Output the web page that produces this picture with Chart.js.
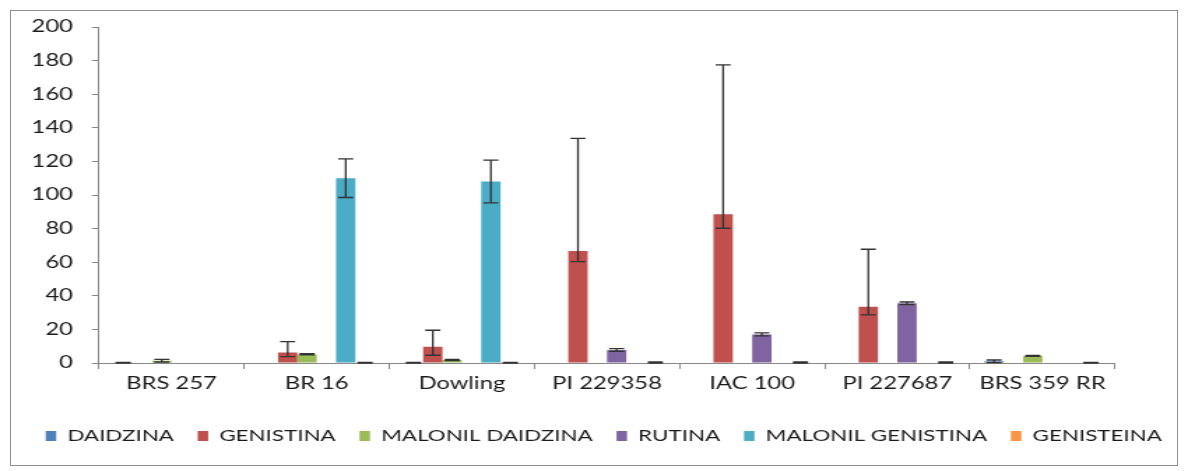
<!DOCTYPE html>
<html>
<head>
<meta charset="utf-8">
<script src="https://cdn.jsdelivr.net/npm/chart.js@4"></script>
<style>
  html, body { margin: 0; padding: 0; background: #fff; }
  body { width: 1188px; height: 471px; position: relative; overflow: hidden; }
  /* the chart is laid out narrow and widened horizontally, giving the broad lettering */
  #wrap { position: absolute; left: 0; top: 0; width: 850px; height: 471px;
          transform: scaleX(1.397647); transform-origin: 0 0; }
  #frame { position: absolute; left: 10px; top: 10px; width: 1168px; height: 456px;
           border: 1px solid #8c8c8c; box-sizing: border-box; pointer-events: none; }
</style>
</head>
<body>
<div id="wrap"><canvas id="c" width="850" height="471"></canvas></div>
<div id="frame"></div>
<script>
// Cultivars
const categories = ['BRS 257', 'BR 16', 'Dowling', 'PI 229358', 'IAC 100', 'PI 227687', 'BRS 359 RR'];
const yTicks = [0, 20, 40, 60, 80, 100, 120, 140, 160, 180, 200];

// Isoflavone contents per cultivar
const daidzina          = [0.2, 0,   0.2, 0,    0,    0,    1.0];
const genistina         = [0,   6.2, 9.7, 66.7, 88.5, 33.5, 0];
const malonilDaidzina   = [1.4, 5.2, 1.8, 0,    0,    0,    4.2];
const rutina            = [0,   0,   0,   7.7,  17.0, 35.5, 0];
const malonilGenistina  = [0,   110, 108, 0,    0,    0,    0];
const genisteina        = [0,   0.2, 0.2, 0.3,  0.3,  0.3,  0.2];

// Error bars (upper / lower extent)
const daidzinaErr         = [0.2, 0,   0.2, 0,   0,   0,   0.8];
const genistinaErrUp      = [0,   6.5, 9.8, 67,  89,  34.2, 0];
const genistinaErrDown    = [0,   2.4, 5.1, 6.4, 8.3, 4.9, 0];
const malonilDaidzinaErr  = [0.8, 0.4, 0.4, 0,   0,   0,   0.3];
const rutinaErr           = [0,   0,   0,   0.8, 0.9, 0.8, 0];
const malonilGenistinaErr = [0,   11.5, 12.7, 0, 0,   0,   0];
const genisteinaErr       = [0,   0.2, 0.2, 0.3, 0.3, 0.3, 0.2];

const FAMILY = 'Lato, "Open Sans", sans-serif';
const FONT = { family: FAMILY, size: 17 };
const LEGEND_FONT = { family: FAMILY, size: 16 };
const TEXT = '#1a1a1a';
const AXIS = '#868686';

function series(label, data, color, up, down) {
  return { label, data, backgroundColor: color, borderWidth: 0,
           categoryPercentage: 0.8, barPercentage: 1.0,
           errUp: up, errDown: down || up };
}

const errorBars = {
  id: 'errorBars',
  afterDatasetsDraw(chart) {
    const ctx = chart.ctx;
    const yS = chart.scales.y;
    ctx.save();
    ctx.strokeStyle = '#333';
    ctx.lineWidth = 1.3;
    chart.data.datasets.forEach((ds, i) => {
      const meta = chart.getDatasetMeta(i);
      meta.data.forEach((bar, j) => {
        const up = ds.errUp[j] || 0, dn = ds.errDown[j] || 0;
        if (!up && !dn) return;
        const v = ds.data[j];
        const yT = yS.getPixelForValue(v + up);
        const yB = yS.getPixelForValue(Math.max(v - dn, 0));
        const x = bar.x, hw = 5.4;
        ctx.beginPath();
        ctx.moveTo(x, yT); ctx.lineTo(x, yB);
        ctx.moveTo(x - hw, yT); ctx.lineTo(x + hw, yT);
        ctx.moveTo(x - hw, yB); ctx.lineTo(x + hw, yB);
        ctx.stroke();
      });
    });
    ctx.restore();
  }
};

new Chart(document.getElementById('c'), {
  type: 'bar',
  data: {
    labels: categories,
    datasets: [
      series('DAIDZINA', daidzina, '#4F81BD', daidzinaErr),
      series('GENISTINA', genistina, '#C0504D', genistinaErrUp, genistinaErrDown),
      series('MALONIL DAIDZINA', malonilDaidzina, '#9BBB59', malonilDaidzinaErr),
      series('RUTINA', rutina, '#8064A2', rutinaErr),
      series('MALONIL GENISTINA', malonilGenistina, '#4BACC6', malonilGenistinaErr),
      series('GENISTEINA', genisteina, '#F79646', genisteinaErr)
    ]
  },
  options: {
    responsive: false,
    animation: false,
    devicePixelRatio: 1,
    layout: { padding: { left: 14, right: 0, top: 27, bottom: 17 } },
    plugins: {
      legend: {
        position: 'bottom',
        labels: { boxWidth: 7.5, boxHeight: 10, padding: 17, color: TEXT, font: LEGEND_FONT }
      },
      tooltip: { enabled: false }
    },
    scales: {
      x: {
        offset: true,
        grid: { offset: true, drawOnChartArea: false, drawTicks: true, tickLength: 6, color: AXIS },
        border: { color: AXIS },
        ticks: { color: TEXT, font: FONT, padding: 4, maxRotation: 0, autoSkip: false },
        afterFit: s => { s.height = 48; }
      },
      y: {
        min: 0, max: 200,
        afterBuildTicks: s => { s.ticks = yTicks.map(v => ({ value: v })); },
        grid: { drawOnChartArea: false, tickLength: 5, color: AXIS },
        border: { color: AXIS },
        ticks: { color: TEXT, font: FONT, padding: 13.6 },
        afterFit: s => { s.width = 56.8; }
      },
      y2: {
        position: 'right',
        ticks: { display: false },
        grid: { display: false },
        border: { display: false },
        afterFit: s => { s.width = 52.2; }
      }
    }
  },
  plugins: [errorBars]
});
</script>
</body>
</html>
